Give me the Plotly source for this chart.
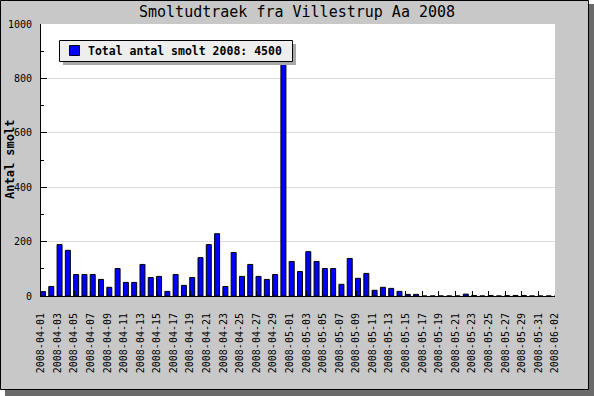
import plotly.graph_objects as go
import datetime as dt

# ---- data ----
start = dt.date(2008, 4, 1)
dates = [(start + dt.timedelta(days=i)).isoformat() for i in range(63)]

april_counts = [16, 35, 189, 168, 79, 79, 79, 61, 32, 101,
                50, 50, 116, 68, 72, 17, 79, 39, 68, 141,
                189, 229, 35, 160, 72, 116, 72, 61, 79, 900]
may_counts = [127, 90, 163, 127, 101, 101, 43, 138, 65, 83,
              21, 32, 28, 17, 6, 6, 0, 0, 0, 0,
              0, 7, 2, 0, 2, 0, 1, 2, 2, 0, 0]
june_counts = [0, 0]
counts = april_counts + may_counts + june_counts

tick_labels = dates[::2]
total_2008 = 4500
title_text = "Smoltudtraek fra Villestrup Aa 2008"
y_title = "Antal smolt"
legend_text = f"Total antal smolt 2008: {total_2008}"

# ---- layout geometry (pixels) ----
W, H = 594, 396
L, R, T, B = 41, 555, 24, 296
PW, PH = R - L, B - T


def px(x):
    return (x - L) / PW


def py(y):
    return (B - y) / PH


MONO = "DejaVu Sans Mono"

fig = go.Figure()
fig.add_trace(go.Bar(
    x=dates, y=counts, name=legend_text,
    width=0.6, offset=-0.06,
    marker=dict(color="#0000ff", line=dict(color="#000000", width=1)),
    showlegend=False,
))

shapes = [
    # frame shadow
    dict(type="rect", xref="paper", yref="paper", layer="below",
         x0=px(5), x1=px(594), y0=py(396), y1=py(4),
         fillcolor="#6a6a6a", line=dict(width=0)),
    # frame
    dict(type="rect", xref="paper", yref="paper", layer="below",
         x0=px(0.5), x1=px(588.5), y0=py(389.5), y1=py(0.5),
         fillcolor="#c8c8c8", line=dict(color="#000000", width=1)),
    # plot background
    dict(type="rect", xref="paper", yref="paper", layer="below",
         x0=0, x1=1, y0=0, y1=1,
         fillcolor="#ffffff", line=dict(width=0)),
    # legend shadow
    dict(type="rect", xref="paper", yref="paper", layer="above",
         x0=px(63), x1=px(296), y0=py(65), y1=py(44),
         fillcolor="#a8a8a8", line=dict(width=0)),
    # legend box
    dict(type="rect", xref="paper", yref="paper", layer="above",
         x0=px(59.5), x1=px(292.5), y0=py(61.5), y1=py(40.5),
         fillcolor="#eeeeee", line=dict(color="#000000", width=1)),
    # legend swatch
    dict(type="rect", xref="paper", yref="paper", layer="above",
         x0=px(69.5), x1=px(79.5), y0=py(55.5), y1=py(45.5),
         fillcolor="#0000ff", line=dict(color="#000000", width=1)),
]

annotations = [
    dict(text=title_text, xref="paper", yref="paper", x=px(297), y=py(12),
         xanchor="center", yanchor="middle", showarrow=False,
         font=dict(family=MONO, size=15, color="#000000")),
    dict(text=f"<b>{y_title}</b>", xref="paper", yref="paper", x=px(10), y=0.5,
         xanchor="center", yanchor="middle", showarrow=False, textangle=-90,
         font=dict(family=MONO, size=12, color="#000000")),
    dict(text=f"<b>{legend_text}</b>", xref="paper", yref="paper", x=px(86), y=py(51),
         xanchor="left", yanchor="middle", showarrow=False,
         font=dict(family=MONO, size=11.5, color="#000000")),
]

fig.update_layout(
    width=W, height=H,
    margin=dict(l=L, r=W - R, t=T, b=H - B, pad=0, autoexpand=False),
    paper_bgcolor="#ffffff", plot_bgcolor="#ffffff",
    showlegend=False, bargap=0,
    shapes=shapes, annotations=annotations,
    font=dict(family=MONO, size=10, color="#000000"),
)

fig.update_xaxes(
    type="category", range=[0, 62],
    tickmode="array", tickvals=tick_labels, ticktext=tick_labels,
    tickangle=-90, ticks="inside", ticklen=5, tickcolor="#000000",
    showline=True, linecolor="#000000", linewidth=1,
    showgrid=False, zeroline=False, ticklabelstandoff=12,
    tickfont=dict(family=MONO, size=10, color="#000000"),
)
fig.update_yaxes(
    range=[0, 1000], tickmode="linear", tick0=0, dtick=200,
    ticks="inside", ticklen=6, tickcolor="#000000",
    minor=dict(dtick=100, ticks="inside", ticklen=3, tickcolor="#000000", showgrid=False),
    showline=True, linecolor="#000000", linewidth=1,
    showgrid=True, gridcolor="#dcdcdc", gridwidth=1, zeroline=False,
    ticklabelstandoff=6,
    tickfont=dict(family=MONO, size=10, color="#000000"),
)

fig.write_html(
    "out.html",
    config={"displayModeBar": False, "staticPlot": True},
    post_script="document.body.style.margin='0';document.body.style.overflow='hidden';",
)
